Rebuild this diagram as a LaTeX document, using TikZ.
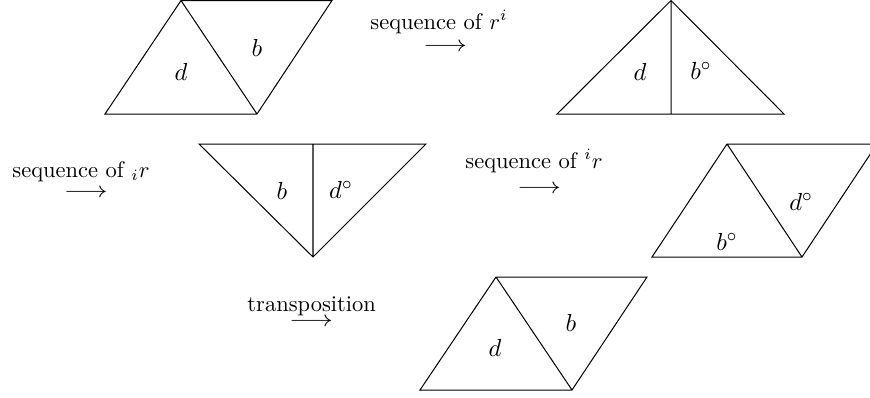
\documentclass[tikz,border=0pt]{standalone}
\usepackage{graphicx}
\newcommand{\longarrowglyph}{\scalebox{1.2}[1]{$\longrightarrow$}}
\begin{document}
\begin{tikzpicture}[x=0.4444pt,y=-0.4444pt,
  outline/.style={draw=black,line width=0.45pt,line join=miter},
  labtext/.style={inner sep=0pt,anchor=center,font=\fontsize{11}{13}\selectfont},
  captext/.style={inner sep=0pt,anchor=base west},
  arrowglyph/.style={inner sep=0pt,anchor=base}]
\useasboundingbox (0,0) rectangle (870,397);
\clip (0,0) rectangle (870,397);
% top-left parallelogram
\coordinate (p1a) at (105,114); \coordinate (p1b) at (181,0.5);
\coordinate (p1c) at (332,0.5); \coordinate (p1d) at (257,114);
\draw[outline] (p1a) -- (p1b) -- (p1c) -- (p1d) -- cycle (p1b) -- (p1d);
\node[labtext] (l1d) at (181,72) {$d$};
\node[labtext] (l1b) at (257,48) {$b$};
% top-right triangle
\coordinate (t1a) at (557,114); \coordinate (t1b) at (671,0.5);
\coordinate (t1c) at (784,114); \coordinate (t1m) at (671,114);
\draw[outline] (t1a) -- (t1b) -- (t1c) -- cycle (t1b) -- (t1m);
\node[labtext] (l2d) at (640,72) {$d$};
\node[labtext] (l2b) at (701,71) {$b^\circ$};
% middle inverted triangle
\coordinate (t2a) at (199,144); \coordinate (t2b) at (426,144);
\coordinate (t2c) at (313,257); \coordinate (t2m) at (313,144);
\draw[outline] (t2a) -- (t2b) -- (t2c) -- cycle (t2m) -- (t2c);
\node[labtext] (l3b) at (282,191) {$b$};
\node[labtext] (l3d) at (341,190) {$d^\circ$};
% middle-right parallelogram
\coordinate (p2a) at (652,257); \coordinate (p2b) at (727,144);
\coordinate (p2c) at (877,144); \coordinate (p2d) at (802,257);
\draw[outline] (p2a) -- (p2b) -- (p2c) -- (p2d) -- cycle (p2b) -- (p2d);
\node[labtext] (l4b) at (727,242) {$b^\circ$};
\node[labtext] (l4d) at (801,202) {$d^\circ$};
% bottom parallelogram
\coordinate (p3a) at (420,390); \coordinate (p3b) at (496,277);
\coordinate (p3c) at (647,277); \coordinate (p3d) at (572,390);
\draw[outline] (p3a) -- (p3b) -- (p3c) -- (p3d) -- cycle (p3b) -- (p3d);
\node[labtext] (l5d) at (495,348) {$d$};
\node[labtext] (l5b) at (571,323) {$b$};
% captions and arrows
\node[captext] (c1) at (370,29) {sequence of $r^i$};
\node[arrowglyph] (a1) at (445,51.6) {\longarrowglyph};
\node[captext] (c2) at (12,177) {sequence of ${}_ir$};
\node[arrowglyph] (a2) at (86,197.6) {\longarrowglyph};
\node[captext] (c3) at (465,168) {sequence of ${}^ir$};
\node[arrowglyph] (a3) at (539,193.6) {\longarrowglyph};
\node[captext] (c4) at (247,311) {transposition};
\node[arrowglyph] (a4) at (311,326.6) {\longarrowglyph};
\end{tikzpicture}
\end{document}
